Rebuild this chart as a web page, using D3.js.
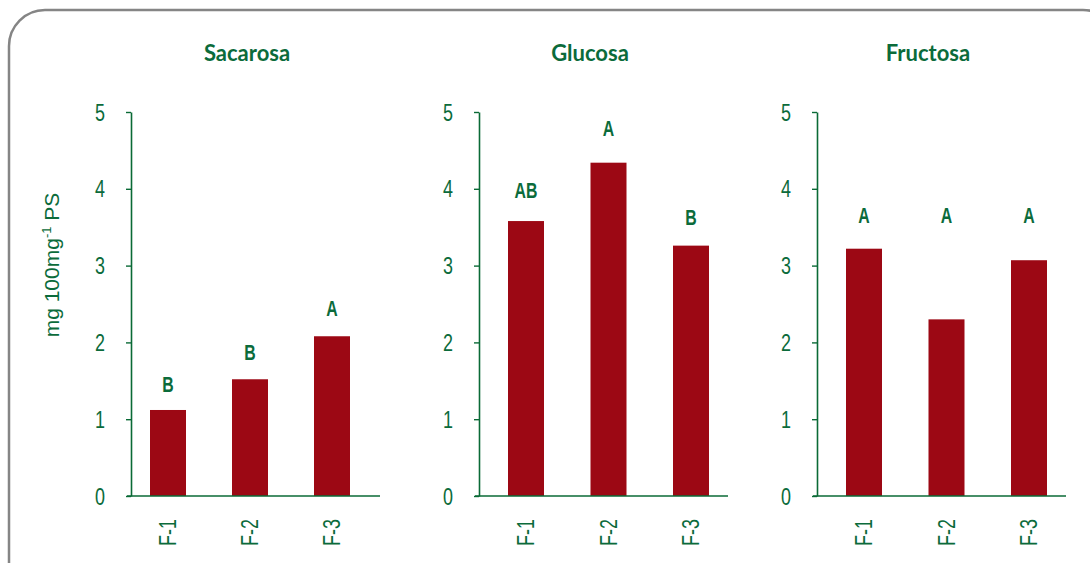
<!DOCTYPE html>
<html>
<head>
<meta charset="utf-8">
<script src="https://cdn.jsdelivr.net/npm/d3@7"></script>
<style>
  html, body { margin: 0; padding: 0; background: #ffffff; }
  svg { display: block; }
</style>
</head>
<body>
<svg id="chart" width="1090" height="563"></svg>
<script>
// Sugar content by formulation (mg 100mg-1 PS)
const categories = ["F-1", "F-2", "F-3"];
const titles = ["Sacarosa", "Glucosa", "Fructosa"];
const sacarosa = [1.12, 1.52, 2.08];
const glucosa  = [3.58, 4.34, 3.26];
const fructosa = [3.22, 2.30, 3.07];
// Significance letters and the height (in axis units) at which they sit
const sacarosaLetters = ["B", "B", "A"];
const glucosaLetters  = ["AB", "A", "B"];
const fructosaLetters = ["A", "A", "A"];
const sacarosaLetterAt = [1.46, 1.88, 2.45];
const glucosaLetterAt  = [3.98, 4.79, 3.63];
const fructosaLetterAt = [3.66, 3.66, 3.66];
const yTicks = [0, 1, 2, 3, 4, 5];

const series = [
  { title: titles[0], values: sacarosa, letters: sacarosaLetters, letterAt: sacarosaLetterAt },
  { title: titles[1], values: glucosa,  letters: glucosaLetters,  letterAt: glucosaLetterAt },
  { title: titles[2], values: fructosa, letters: fructosaLetters, letterAt: fructosaLetterAt }
];

const GREEN = "#0b6b3b";
const AXIS = "#0a6a36";
const BAR = "#9c0814";
const NARROW = "'Liberation Sans Narrow', 'Arial Narrow', sans-serif";
const SQUEEZE = 0.78;

const svg = d3.select("#chart");

// rounded frame
svg.append("rect")
  .attr("x", 9).attr("y", 10)
  .attr("width", 1110).attr("height", 620)
  .attr("rx", 36).attr("ry", 36)
  .attr("fill", "none")
  .attr("stroke", "#858585")
  .attr("stroke-width", 2.5);

const y = d3.scaleLinear().domain([0, 5]).range([496, 112]);

// panel layout: axis position, bar-centre span, title centre
const layout = [
  { axisX: 131, span: [37, 201], titleX: 247 },
  { axisX: 479, span: [47, 212], titleX: 590 },
  { axisX: 817, span: [47, 212], titleX: 928 }
];
const plotW = 249;
const barW = 36;

series.forEach((s, i) => {
  const L = layout[i];
  const g = svg.append("g").attr("transform", `translate(${L.axisX},0)`);
  const x = d3.scalePoint().domain(categories).range(L.span);

  // title
  svg.append("text")
    .attr("x", L.titleX).attr("y", 61)
    .attr("text-anchor", "middle")
    .attr("font-family", "Lato, 'Open Sans', sans-serif")
    .attr("font-weight", 700)
    .attr("font-size", 22)
    .attr("fill", GREEN)
    .text(s.title);

  // bars
  g.selectAll("rect.bar").data(s.values).join("rect")
    .attr("class", "bar")
    .attr("x", (d, j) => x(categories[j]) - barW / 2)
    .attr("width", barW)
    .attr("y", d => y(d))
    .attr("height", d => y(0) - y(d))
    .attr("fill", BAR);

  // y axis
  const ay = g.append("g").call(
    d3.axisLeft(y).tickValues(yTicks).tickFormat(d3.format("d"))
      .tickSize(5).tickSizeOuter(0).tickPadding(22)
  );
  ay.select(".domain").attr("stroke", AXIS).attr("stroke-width", 1.6);
  ay.selectAll(".tick line").attr("stroke", AXIS).attr("stroke-width", 1.4);
  ay.selectAll(".tick text")
    .attr("x", null).attr("dy", null)
    .attr("transform", `translate(-26,8) scale(${SQUEEZE},1)`)
    .attr("text-anchor", "end")
    .attr("font-family", NARROW)
    .attr("font-size", 23)
    .attr("fill", GREEN);

  // baseline
  g.append("line")
    .attr("x1", -4).attr("x2", plotW)
    .attr("y1", y(0)).attr("y2", y(0))
    .attr("stroke", AXIS).attr("stroke-width", 1.6);

  // category labels (rotated)
  g.selectAll("text.cat").data(categories).join("text")
    .attr("class", "cat")
    .attr("transform", d => `translate(${x(d) + 8},519) rotate(-90) scale(${SQUEEZE},1)`)
    .attr("text-anchor", "end")
    .attr("font-family", NARROW)
    .attr("font-size", 23)
    .attr("fill", GREEN)
    .text(d => d);

  // significance letters
  g.selectAll("text.sig").data(s.letters).join("text")
    .attr("class", "sig")
    .attr("transform", (d, j) => `translate(${x(categories[j])},${y(s.letterAt[j]) + 8}) scale(0.72,1)`)
    .attr("text-anchor", "middle")
    .attr("font-family", NARROW)
    .attr("font-weight", 700)
    .attr("font-size", 22)
    .attr("fill", GREEN)
    .text(d => d);
});

// y axis title
const yt = svg.append("text")
  .attr("transform", "translate(59,265) rotate(-90)")
  .attr("text-anchor", "middle")
  .attr("font-family", "'Liberation Sans', Arial, sans-serif")
  .attr("font-size", 21)
  .attr("fill", GREEN);
yt.append("tspan").text("mg 100mg");
yt.append("tspan").attr("dy", -8).attr("font-size", 13).text("-1");
yt.append("tspan").attr("dy", 8).text(" PS");
</script>
</body>
</html>
